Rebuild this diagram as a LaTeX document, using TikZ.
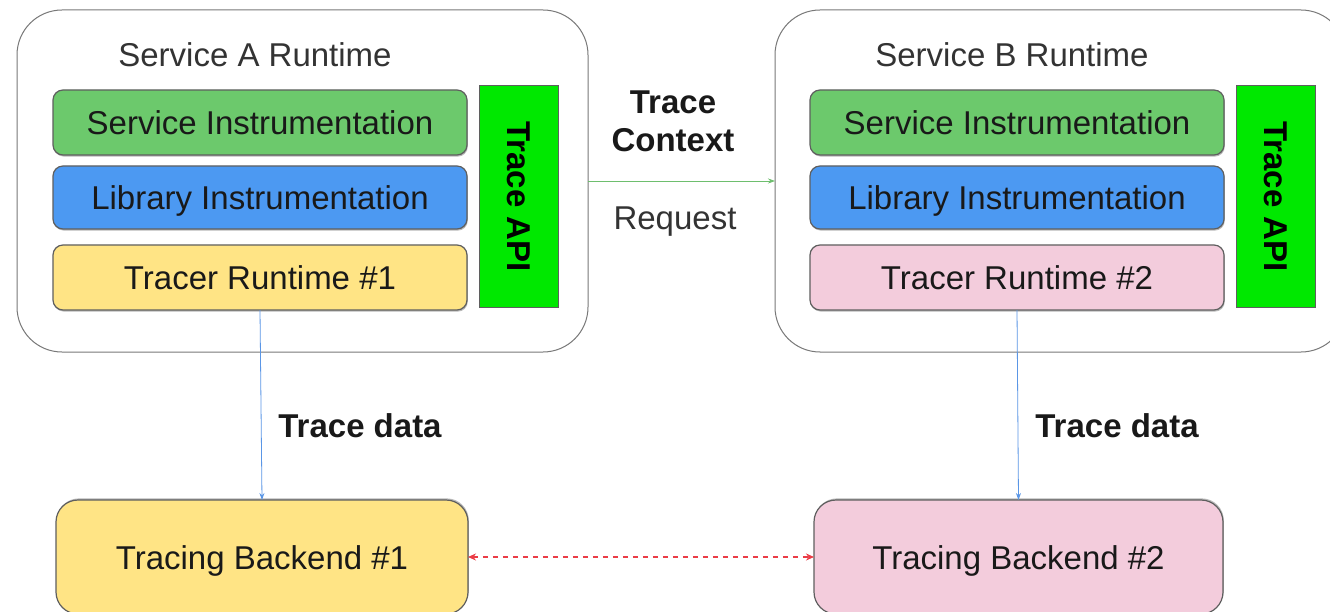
\documentclass[tikz,border=0pt]{standalone}
\usepackage{fontspec}
\setmainfont{Liberation Sans}
\usetikzlibrary{arrows.meta,shadows}

\definecolor{layergreen}{RGB}{108,201,108}
\definecolor{layerblue}{RGB}{76,153,242}
\definecolor{layeryellow}{RGB}{255,228,133}
\definecolor{layerpink}{RGB}{243,204,220}
\definecolor{apigreen}{RGB}{0,232,0}
\definecolor{edgegray}{RGB}{95,95,95}
\definecolor{framegray}{RGB}{120,120,120}
\definecolor{titlegray}{RGB}{51,51,51}
\definecolor{linkblue}{RGB}{90,150,230}
\definecolor{linkgreen}{RGB}{110,190,110}
\definecolor{linkred}{RGB}{235,60,70}

\tikzset{
  x=1pt, y=-1pt,
  every node/.style={font=\fontsize{33}{38}\selectfont, inner sep=0pt, outer sep=0pt},
  capcentred/.style={text height=24pt, text depth=0pt},
  runtime/.style={draw=framegray, line width=1pt, rounded corners=45pt,
                  minimum width=571pt, minimum height=342pt},
  layer/.style={draw=edgegray, line width=1.2pt, rounded corners=10pt,
                minimum width=414pt, text=black!90, capcentred,
                drop shadow={shadow xshift=0.8pt, shadow yshift=-1.6pt, fill=black!45, opacity=0.6}},
  api/.style={draw=edgegray, line width=1pt, fill=apigreen, rotate=-90,
              minimum width=221pt, minimum height=79pt, font=\fontsize{33}{38}\selectfont\bfseries},
  backend/.style={draw=edgegray, line width=1.2pt, rounded corners=22pt,
                  minimum height=114pt, text=black!90, capcentred,
                  drop shadow={shadow xshift=0.8pt, shadow yshift=1.6pt, fill=black!45, opacity=0.6}},
  flow/.style={line width=0.8pt, -{Stealth[length=7pt,width=5pt]}},
  lbl/.style={font=\fontsize{33}{38}\selectfont\bfseries, text=black!90},
}

\begin{document}
\begin{tikzpicture}
  \clip (0,0) rectangle (1330,612);
  \fill[white] (0,0) rectangle (1330,612);

  % runtime frames
  \node[runtime] (outA) at (302.5,181) {};
  \node[runtime] (outB) at (1060.5,181) {};
  \node[text=titlegray, capcentred] (titleA) at (255,55) {Service A Runtime};
  \node[text=titlegray, capcentred] (titleB) at (1012,55) {Service B Runtime};

  % service A stack
  \node[layer, fill=layergreen, minimum height=65pt] (siA) at (260,122.5) {Service Instrumentation};
  \node[layer, fill=layerblue, minimum height=63pt] (liA) at (260,197.5) {Library Instrumentation};
  \node[layer, fill=layeryellow, minimum height=65pt] (trA) at (260,277.5) {Tracer Runtime \#1};
  \node[api] (apiA) at (518.5,196.5) {Trace API};

  % service B stack
  \node[layer, fill=layergreen, minimum height=65pt] (siB) at (1017,122.5) {Service Instrumentation};
  \node[layer, fill=layerblue, minimum height=63pt] (liB) at (1017,197.5) {Library Instrumentation};
  \node[layer, fill=layerpink, minimum height=65pt] (trB) at (1017,277.5) {Tracer Runtime \#2};
  \node[api] (apiB) at (1276,196.5) {Trace API};

  % backends
  \node[backend, fill=layeryellow, minimum width=412pt] (beA) at (262,557) {Tracing Backend \#1};
  \node[backend, fill=layerpink, minimum width=409pt] (beB) at (1018.5,557) {Tracing Backend \#2};

  % request between services
  \draw[flow, draw=linkgreen] (outA.east) -- (outB.west);
  \node[lbl, align=center] (ctx) at (673,121) {Trace\\Context};
  \node[text=titlegray, capcentred] (req) at (675,218) {Request};

  % trace data export
  \draw[flow, draw=linkblue] (trA.south) -- (beA.north);
  \draw[flow, draw=linkblue] (trB.south) -- (beB.north);
  \node[lbl, capcentred] (tdA) at (360,425) {Trace data};
  \node[lbl, capcentred] (tdB) at (1117,425) {Trace data};

  % backend federation
  \draw[line width=1.2pt, draw=linkred, dash pattern=on 5pt off 5pt,
        {Stealth[length=8pt,width=7pt]}-{Stealth[length=8pt,width=7pt]}]
        (beA.east) -- (beB.west);
\end{tikzpicture}
\end{document}
